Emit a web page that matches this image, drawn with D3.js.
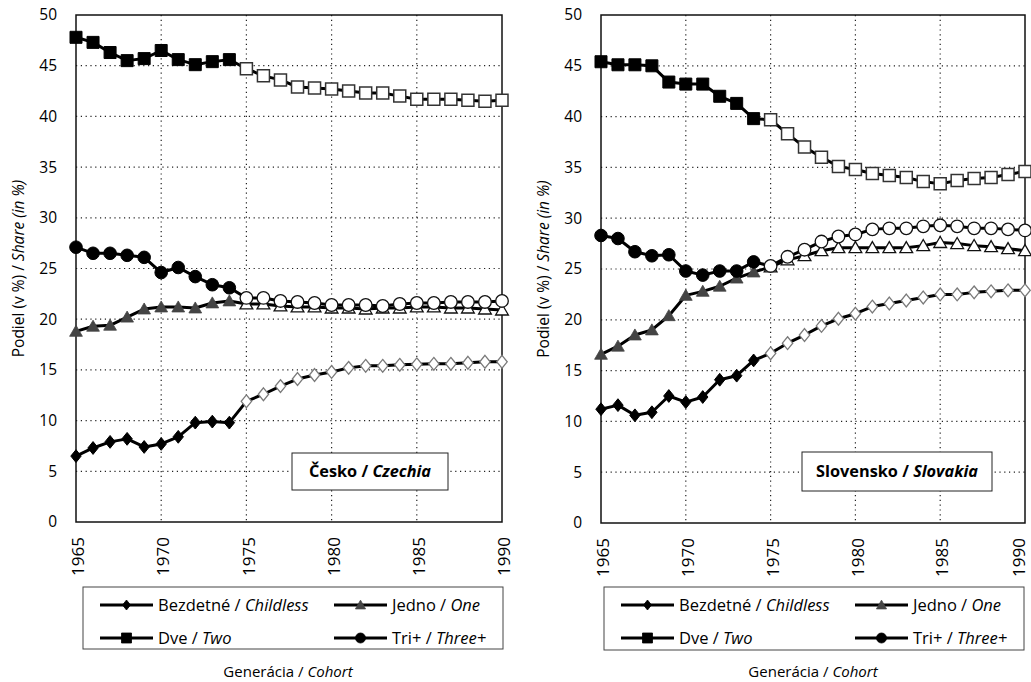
<!DOCTYPE html>
<html>
<head>
<meta charset="utf-8">
<script src="https://cdn.jsdelivr.net/npm/d3@7"></script>
<style>
  body { margin: 0; background: #fff; }
  svg { display: block; font-family: "Open Sans", "Noto Sans", sans-serif; }
  text { fill: #000; }
</style>
</head>
<body>
<svg id="chart" width="1031" height="682"></svg>
<script>
// Birth cohorts 1965–1990; cohorts from 1975 onward are projected (open markers)
const years = [1965, 1966, 1967, 1968, 1969, 1970, 1971, 1972, 1973, 1974, 1975, 1976, 1977,
               1978, 1979, 1980, 1981, 1982, 1983, 1984, 1985, 1986, 1987, 1988, 1989, 1990];
const projectionStart = 1975;
const yTicks = [0, 5, 10, 15, 20, 25, 30, 35, 40, 45, 50];
const xTicks = [1965, 1970, 1975, 1980, 1985, 1990];

// Czechia: share of women by number of children (%)
const czChildless = [6.5, 7.3, 7.9, 8.2, 7.4, 7.7, 8.4, 9.8, 9.9, 9.8, 11.9, 12.6, 13.4,
                     14.1, 14.5, 14.8, 15.2, 15.4, 15.4, 15.5, 15.55, 15.6, 15.6, 15.7, 15.8, 15.8];
const czOne = [18.8, 19.3, 19.4, 20.2, 21.0, 21.2, 21.2, 21.1, 21.6, 21.8, 21.5, 21.5, 21.3,
               21.2, 21.2, 21.1, 21.1, 21.0, 21.1, 21.1, 21.2, 21.2, 21.1, 21.1, 21.0, 20.9];
const czTwo = [47.8, 47.3, 46.3, 45.5, 45.7, 46.5, 45.6, 45.1, 45.4, 45.6, 44.7, 44.0, 43.6,
               42.9, 42.8, 42.7, 42.5, 42.3, 42.3, 42.0, 41.7, 41.7, 41.7, 41.6, 41.5, 41.6];
const czThree = [27.1, 26.5, 26.5, 26.3, 26.1, 24.6, 25.1, 24.2, 23.4, 23.1, 22.1, 22.1, 21.8,
                 21.7, 21.6, 21.4, 21.4, 21.4, 21.3, 21.5, 21.6, 21.6, 21.7, 21.7, 21.7, 21.8];

// Slovakia: share of women by number of children (%)
const skChildless = [11.2, 11.6, 10.6, 10.9, 12.5, 11.9, 12.4, 14.1, 14.5, 16.0, 16.7, 17.7, 18.5,
                     19.4, 20.1, 20.6, 21.3, 21.6, 21.9, 22.2, 22.5, 22.5, 22.7, 22.8, 22.9, 22.9];
const skOne = [16.6, 17.4, 18.5, 19.0, 20.4, 22.4, 22.8, 23.3, 24.1, 24.7, 25.2, 25.9, 26.3,
               26.8, 27.1, 27.1, 27.1, 27.1, 27.1, 27.3, 27.6, 27.5, 27.3, 27.2, 27.0, 26.8];
const skTwo = [45.4, 45.1, 45.1, 45.0, 43.4, 43.2, 43.2, 42.0, 41.3, 39.8, 39.7, 38.3, 37.0,
               36.0, 35.1, 34.8, 34.4, 34.2, 34.0, 33.6, 33.4, 33.7, 33.9, 34.0, 34.3, 34.6];
const skThree = [28.3, 28.0, 26.7, 26.3, 26.4, 24.8, 24.4, 24.8, 24.8, 25.7, 25.3, 26.2, 26.9,
                 27.7, 28.2, 28.4, 28.9, 29.0, 29.0, 29.2, 29.3, 29.2, 29.0, 29.0, 28.9, 28.8];

const seriesNames = [
  { sk: "Bezdetné", en: "Childless" },
  { sk: "Jedno", en: "One" },
  { sk: "Dve", en: "Two" },
  { sk: "Tri+", en: "Three+" }
];

const W = 1031;

// Marker shapes (half-sizes in px)
const markerPath = {
  diamond: (w, h) => `M0,${-h}L${w},0L0,${h}L${-w},0Z`,
  square: (s) => `M${-s},${-s}H${s}V${s}H${-s}Z`,
  triangle: (s) => `M0,${-s * 1.05}L${s * 1.1},${s * 0.85}L${-s * 1.1},${s * 0.85}Z`,
  circle: (r) => `M${r},0A${r},${r} 0 1,1 ${-r},0A${r},${r} 0 1,1 ${r},0Z`
};

const markerStyles = [
  { // childless
    path: markerPath.diamond(5.2, 6.4), legendPath: markerPath.diamond(4, 5),
    filled: { fill: "#000", stroke: "#000", sw: 1 },
    open: { fill: "#fff", stroke: "#7a7a7a", sw: 1.3 }
  },
  { // one
    path: markerPath.triangle(5.8), legendPath: markerPath.triangle(4.6),
    filled: { fill: "#444", stroke: "#444", sw: 0.8 },
    open: { fill: "#fff", stroke: "#111", sw: 1.3 }
  },
  { // two
    path: markerPath.square(6), legendPath: markerPath.square(5),
    filled: { fill: "#000", stroke: "#000", sw: 1 },
    open: { fill: "#fff", stroke: "#333", sw: 1.5 }
  },
  { // three+
    path: markerPath.circle(6.3), legendPath: markerPath.circle(5),
    filled: { fill: "#000", stroke: "#000", sw: 1 },
    open: { fill: "#fff", stroke: "#111", sw: 1.3 }
  }
];

const svg = d3.select("#chart");

function drawPanel(opts) {
  const { left, right, top, bottom, series, country, countryEn, box, yTitleX, legend, xTitleX } = opts;
  const g = svg.append("g");

  const x = d3.scaleLinear().domain([1965, 1990]).range([left, right]);
  const y = d3.scaleLinear().domain([0, 50]).range([bottom, top]);

  // dotted grid
  g.append("g").selectAll("line.h")
    .data(yTicks.filter(v => v > 0 && v < 50))
    .join("line")
    .attr("x1", left).attr("x2", right)
    .attr("y1", d => y(d)).attr("y2", d => y(d))
    .attr("stroke", "#222").attr("stroke-width", 1.2)
    .attr("stroke-dasharray", "1.2,3.6");
  g.append("g").selectAll("line.v")
    .data(xTicks.filter(v => v > 1965 && v < 1990))
    .join("line")
    .attr("y1", top).attr("y2", bottom)
    .attr("x1", d => x(d)).attr("x2", d => x(d))
    .attr("stroke", "#222").attr("stroke-width", 1.2)
    .attr("stroke-dasharray", "1.2,3.6");

  // plot frame
  g.append("rect")
    .attr("x", left).attr("y", top)
    .attr("width", right - left).attr("height", bottom - top)
    .attr("fill", "none").attr("stroke", "#111").attr("stroke-width", 1.5);

  // y axis labels
  const yAxis = d3.axisLeft(y).tickValues(yTicks).tickSize(0).tickPadding(19);
  const ya = g.append("g").attr("transform", `translate(${left},0)`).call(yAxis);
  ya.select(".domain").remove();
  ya.selectAll("text").attr("font-size", 15.5).attr("fill", "#000")
    .attr("font-family", "'Open Sans', sans-serif");

  // x axis labels (rotated, reading upward)
  const xAxis = d3.axisBottom(x).tickValues(xTicks).tickSize(0).tickFormat(d3.format("d"));
  const xa = g.append("g").attr("transform", `translate(0,${bottom})`).call(xAxis);
  xa.select(".domain").remove();
  xa.selectAll(".tick")
    .attr("transform", d => `translate(${Math.min(x(d) + 2, W - 12)},0)`);
  xa.selectAll("text")
    .attr("font-size", 17).attr("fill", "#000")
    .attr("font-family", "'Open Sans', sans-serif")
    .attr("transform", "rotate(-90)")
    .attr("text-anchor", "end")
    .attr("dy", "0.36em")
    .attr("x", -15).attr("y", 0);

  // y title
  const yt = g.append("text")
    .attr("transform", `translate(${yTitleX},${(top + bottom) / 2}) rotate(-90)`)
    .attr("text-anchor", "middle").attr("font-size", 15.5);
  yt.append("tspan").text("Podiel (v %) / ");
  yt.append("tspan").attr("font-style", "italic").text("Share (in %)");

  // series lines
  const line = d3.line().x((d, i) => x(years[i])).y(d => y(d));
  series.forEach(vals => {
    g.append("path").datum(vals)
      .attr("d", line)
      .attr("fill", "none").attr("stroke", "#000")
      .attr("stroke-width", 3).attr("stroke-linejoin", "round");
  });

  // markers
  series.forEach((vals, si) => {
    const st = markerStyles[si];
    g.append("g").selectAll("path")
      .data(vals.map((v, i) => ({ yr: years[i], v })))
      .join("path")
      .attr("d", st.path)
      .attr("transform", d => `translate(${x(d.yr)},${y(d.v)})`)
      .each(function (d) {
        const s = d.yr < projectionStart ? st.filled : st.open;
        d3.select(this).attr("fill", s.fill).attr("stroke", s.stroke).attr("stroke-width", s.sw);
      });
  });

  // country label box
  g.append("rect")
    .attr("x", box.x).attr("y", box.y).attr("width", box.w).attr("height", box.h)
    .attr("fill", "#fff").attr("stroke", "#222").attr("stroke-width", 1);
  const ct = g.append("text")
    .attr("x", box.x + box.w / 2).attr("y", box.y + box.h / 2)
    .attr("dy", "0.35em").attr("text-anchor", "middle")
    .attr("font-size", 16.3).attr("font-weight", "bold");
  ct.append("tspan").text(country + " / ");
  ct.append("tspan").attr("font-style", "italic").text(countryEn);

  // legend
  const lg = g.append("g");
  lg.append("rect")
    .attr("x", legend.x).attr("y", legend.y).attr("width", legend.w).attr("height", legend.h)
    .attr("fill", "#fff").attr("stroke", "#444").attr("stroke-width", 1);
  [0, 1, 2, 3].forEach(si => {
    const col = si % 2, row = Math.floor(si / 2);
    const lx = legend.x + 17 + col * 234;
    const ly = legend.y + 18 + row * 33;
    const item = lg.append("g").attr("transform", `translate(${lx},${ly})`);
    item.append("line").attr("x1", 0).attr("x2", 53).attr("y1", 0).attr("y2", 0)
      .attr("stroke", "#000").attr("stroke-width", 3);
    const st = markerStyles[si];
    item.append("path").attr("d", st.legendPath)
      .attr("transform", "translate(26.5,0)")
      .attr("fill", st.filled.fill).attr("stroke", st.filled.stroke).attr("stroke-width", 0.8);
    const t = item.append("text").attr("x", 58).attr("dy", "0.35em").attr("font-size", 16.5);
    t.append("tspan").text(seriesNames[si].sk + " / ");
    t.append("tspan").attr("font-style", "italic").text(seriesNames[si].en);
  });

  // x title
  const xt = g.append("text")
    .attr("x", xTitleX).attr("y", 672).attr("dy", "0.35em")
    .attr("text-anchor", "middle").attr("font-size", 15);
  xt.append("tspan").text("Generácia / ");
  xt.append("tspan").attr("font-style", "italic").text("Cohort");
}

drawPanel({
  left: 76, right: 502, top: 15, bottom: 522,
  series: [czChildless, czOne, czTwo, czThree],
  country: "Česko", countryEn: "Czechia",
  box: { x: 292, y: 453, w: 156, h: 37 },
  yTitleX: 24,
  legend: { x: 83, y: 587, w: 420, h: 62 },
  xTitleX: 288
});

drawPanel({
  left: 601, right: 1025, top: 15, bottom: 523,
  series: [skChildless, skOne, skTwo, skThree],
  country: "Slovensko", countryEn: "Slovakia",
  box: { x: 802, y: 452, w: 190, h: 39 },
  yTitleX: 549,
  legend: { x: 604, y: 587, w: 420, h: 63 },
  xTitleX: 813
});
</script>
</body>
</html>
